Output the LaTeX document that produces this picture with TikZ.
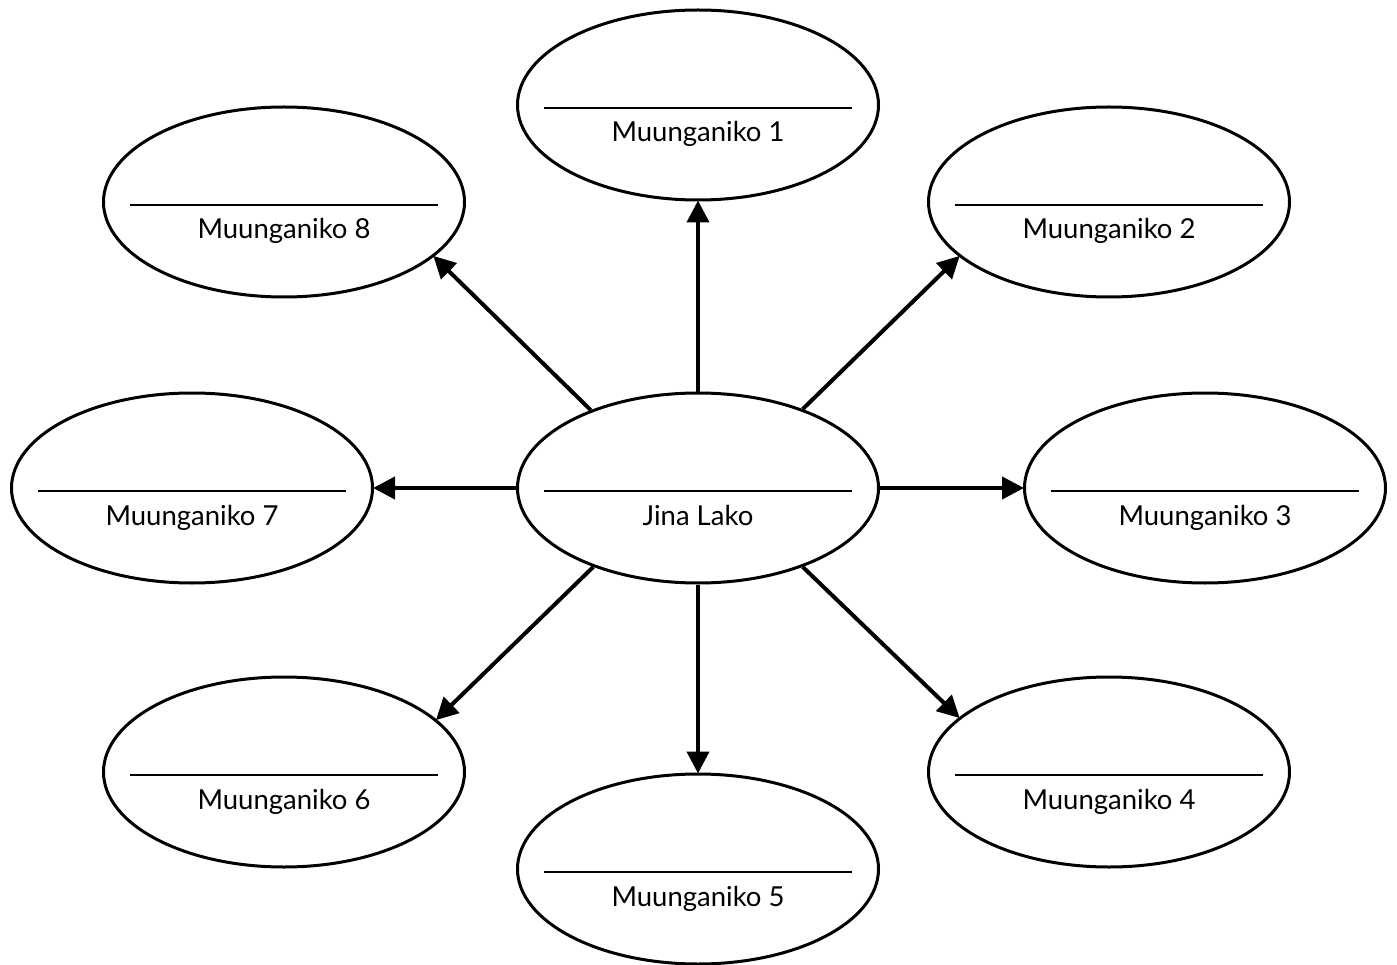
\documentclass[tikz,border=0pt]{standalone}
\usepackage{fontspec}
\setmainfont{Lato}
\usetikzlibrary{arrows.meta,shapes.geometric}
\tikzset{
  bubble/.style={draw=black, line width=3pt, ellipse, minimum width=361pt, minimum height=190pt, inner sep=0pt, fill=white},
  sepline/.style={line width=1.2pt},
  txt/.style={anchor=base, inner sep=0pt, font=\fontsize{27.5}{32}\selectfont},
  conn/.style={line width=4pt, -{Triangle[length=22pt,width=22pt]}, shorten >=-1pt}
}
\begin{document}
\begin{tikzpicture}[x=1pt,y=-1pt]
\useasboundingbox (0,0) rectangle (1397,965);
\node[bubble] (c) at (698,488) {};
\node[bubble] (n1) at (698,105) {};
\node[bubble] (n2) at (1109,202) {};
\node[bubble] (n3) at (1205,488) {};
\node[bubble] (n4) at (1109,772) {};
\node[bubble] (n5) at (698,869) {};
\node[bubble] (n6) at (284,772) {};
\node[bubble] (n7) at (192,488) {};
\node[bubble] (n8) at (284,202) {};
\foreach \n/\t in {c/Jina Lako, n1/Muunganiko 1, n2/Muunganiko 2, n3/Muunganiko 3, n4/Muunganiko 4, n5/Muunganiko 5, n6/Muunganiko 6, n7/Muunganiko 7, n8/Muunganiko 8}{
  \draw[sepline] ([xshift=-154pt,yshift=-3pt]\n.center) coordinate (\n-l) -- ([xshift=154pt,yshift=-3pt]\n.center) coordinate (\n-r);
  \node[txt] (\n-t) at ([yshift=-37pt]\n.center) {\t};
}
\draw[conn] (c.north) -- (n1.south);
\draw[conn] (c.south) -- (n5.north);
\draw[conn] (c.west) -- (n7.east);
\draw[conn] (c.east) -- (n3.west);
\draw[conn] (c.144) -- (n8.-20);
\draw[conn] (c.37) -- (n2.-160);
\draw[conn] (c.-143) -- (n6.19);
\draw[conn] (c.-37) -- (n4.160);
\end{tikzpicture}
\end{document}
